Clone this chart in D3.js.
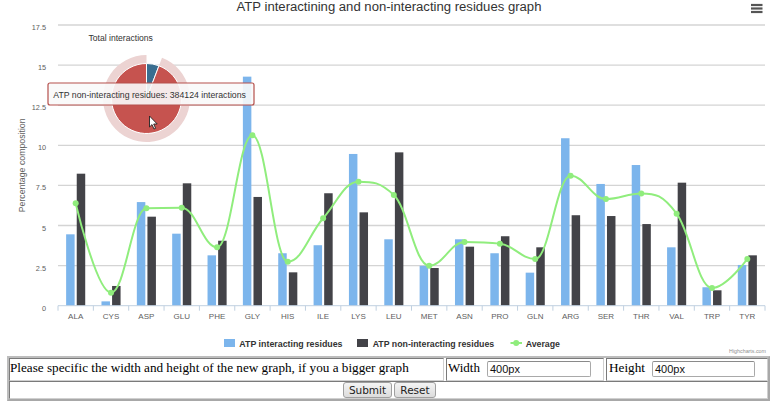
<!DOCTYPE html>
<html>
<head>
<meta charset="utf-8">
<script src="https://cdn.jsdelivr.net/npm/d3@7/dist/d3.min.js"></script>
<style>
  html, body { margin: 0; padding: 0; background: #fff; }
  body { width: 778px; height: 405px; position: relative; overflow: hidden; }
  #chart { position: absolute; left: 0; top: 0; }
  .box { position: absolute; box-sizing: border-box; }
  .outer { border: 2px solid #bdbdbd; border-right-color: #a8a8a8; border-bottom-color: #a8a8a8; }
  .cell { border: 1px solid #d0d0d0; border-top-color: #7a7a7a; border-left-color: #7a7a7a; }
  .serif { font-family: "Liberation Serif", "Times New Roman", serif; color: #000; position: absolute; white-space: nowrap; }
  .inp { position: absolute; box-sizing: border-box; border: 1px solid #a9a9a9; border-top-color: #8a8a8a; border-radius: 2px; background: #fff;
         font-family: "Liberation Sans", Arial, sans-serif; font-size: 11px; color: #111; padding-left: 2px; line-height: 14px; }
  .btn { position: absolute; box-sizing: border-box; border: 1px solid #a0a0a0; border-radius: 3px;
         background: linear-gradient(#f4f4f4, #dcdcdc); font-family: "DejaVu Sans", "Liberation Sans", sans-serif; font-size: 10.5px;
         color: #222; text-align: center; line-height: 14px; }
</style>
</head>
<body>
<svg id="chart" width="778" height="355"></svg>
<div class="box outer" style="left:7px;top:356px;width:763px;height:45px;"></div>
<div class="box cell" style="left:9px;top:358px;width:435px;height:23px;"></div>
<div class="box cell" style="left:446px;top:358px;width:158px;height:23px;"></div>
<div class="box cell" style="left:606px;top:358px;width:162px;height:23px;"></div>
<div class="box cell" style="left:9px;top:381px;width:759px;height:18px;"></div>
<span class="serif" id="ptext" style="left:10px;top:360px;font-size:14px;">Please specific the width and height of the new graph, if you a bigger graph</span>
<span class="serif" id="wtext" style="left:448px;top:360px;font-size:14px;">Width</span>
<span class="serif" id="htext" style="left:609px;top:360px;font-size:14px;">Height</span>
<div class="inp" style="left:487px;top:361px;width:104px;height:16px;">400px</div>
<div class="inp" style="left:652px;top:361px;width:103px;height:16px;">400px</div>
<div class="btn" style="left:343px;top:382px;width:49px;height:16px;">Submit</div>
<div class="btn" style="left:394px;top:382px;width:42px;height:16px;">Reset</div>

<script>
const categories = ["ALA","CYS","ASP","GLU","PHE","GLY","HIS","ILE","LYS","LEU","MET","ASN","PRO","GLN","ARG","SER","THR","VAL","TRP","TYR"];
const interacting = [4.45,0.27,6.46,4.49,3.14,14.28,3.27,3.77,9.46,4.14,2.49,4.14,3.27,2.06,10.44,7.59,8.77,3.64,1.15,2.54];
const nonInteracting = [8.23,1.23,5.55,7.63,4.05,6.78,2.08,7.01,5.82,9.56,2.35,3.68,4.33,3.64,5.64,5.59,5.09,7.67,0.96,3.14];
const average = [6.38,0.81,6.07,6.11,3.64,10.62,2.74,5.45,7.73,6.90,2.49,3.97,3.87,2.91,8.10,6.65,7.00,5.74,1.10,2.91];
const yTicks = [0,2.5,5,7.5,10,12.5,15,17.5];
const seriesNames = ["ATP interacting residues","ATP non-interacting residues","Average"];
const pieNames = ["ATP interacting residues","ATP non-interacting residues"];
const pieValues = [23650, 384124];
const titleText = "ATP interactining and non-interacting residues graph";
const yTitle = "Percentage composition";
const pieTitle = "Total interactions";
const tooltipText = "ATP non-interacting residues: 384124 interactions";

const colors = { blue: "#7cb5ec", dark: "#434348", green: "#90ed7d", pieBlue: "#3a6e90", pieRed: "#c6534f", halo: "#ecd3d2" };
const FONT = "'Liberation Sans', Arial, Helvetica, sans-serif";

const svg = d3.select("#chart");
const plotLeft = 58, plotRight = 765, plotTop = 25, plotBottom = 305.7;

const x = d3.scaleBand().domain(categories).range([plotLeft, plotRight]).paddingInner(0).paddingOuter(0);
const xs = d3.scaleBand().domain([0,1]).range([x.bandwidth()*0.2, x.bandwidth()*0.8]).paddingInner(0.2).paddingOuter(0.1);
const y = d3.scaleLinear().domain([0,17.5]).range([plotBottom, plotTop]);

function fit(sel, target) {
  const w = sel.node().getComputedTextLength();
  const fs = parseFloat(sel.attr("font-size"));
  sel.attr("font-size", fs * target / w);
}

// Custom d3 curve reproducing the Highcharts spline smoothing (with overshoot clamp)
function SplineCurve(context) { this._context = context; }
SplineCurve.prototype = {
  areaStart() { this._line = 0; },
  areaEnd() { this._line = NaN; },
  lineStart() { this._pts = []; },
  point(px, py) { this._pts.push({x: +px, y: +py}); },
  lineEnd() {
    const p = this._pts, n = p.length, s = 1.5, den = s + 1, c = this._context;
    for (let i = 1; i < n - 1; i++) {
      const a = p[i-1], b = p[i], d = p[i+1];
      let lx = (s*b.x + a.x)/den, ly = (s*b.y + a.y)/den;
      let rx = (s*b.x + d.x)/den, ry = (s*b.y + d.y)/den;
      if (rx !== lx) {
        const corr = ((ry - ly)*(rx - b.x))/(rx - lx) + b.y - ry;
        ly += corr; ry += corr;
      }
      if (ly > a.y && ly > b.y) { ly = Math.max(a.y, b.y); ry = 2*b.y - ly; }
      else if (ly < a.y && ly < b.y) { ly = Math.min(a.y, b.y); ry = 2*b.y - ly; }
      if (ry > d.y && ry > b.y) { ry = Math.max(d.y, b.y); ly = 2*b.y - ry; }
      else if (ry < d.y && ry < b.y) { ry = Math.min(d.y, b.y); ly = 2*b.y - ry; }
      b.lx = lx; b.ly = ly; b.rx = rx; b.ry = ry;
    }
    if (n) c.moveTo(p[0].x, p[0].y);
    for (let i = 1; i < n; i++) {
      const a = p[i-1], b = p[i];
      c.bezierCurveTo(a.rx ?? a.x, a.ry ?? a.y, b.lx ?? b.x, b.ly ?? b.y, b.x, b.y);
    }
  }
};
const highchartsSpline = ctx => new SplineCurve(ctx);

// gridlines
svg.append("g").selectAll("line").data(yTicks.filter(d => d > 0)).join("line")
  .attr("x1", plotLeft).attr("x2", plotRight)
  .attr("y1", d => y(d)).attr("y2", d => y(d))
  .attr("stroke", "#d4d4d4").attr("stroke-width", 1.3);

// y labels
svg.append("g").selectAll("text").data(yTicks).join("text")
  .attr("x", 46).attr("y", d => y(d) + 5)
  .attr("text-anchor", "end").attr("font-family", FONT).attr("font-size", 7.3)
  .attr("fill", "#606060").text(d => d);

// y title
const yt = svg.append("text")
  .attr("transform", `translate(25,${(plotTop+plotBottom)/2}) rotate(-90)`)
  .attr("text-anchor", "middle").attr("font-family", FONT).attr("font-size", 8)
  .attr("fill", "#606060").text(yTitle);
fit(yt, 94);

// bars
const groups = svg.append("g").selectAll("g").data(categories).join("g")
  .attr("transform", d => `translate(${x(d)},0)`);
groups.append("rect")
  .attr("x", xs(0)).attr("width", xs.bandwidth())
  .attr("y", (d,i) => y(interacting[i])).attr("height", (d,i) => plotBottom - y(interacting[i]))
  .attr("fill", colors.blue);
groups.append("rect")
  .attr("x", xs(1)).attr("width", xs.bandwidth())
  .attr("y", (d,i) => y(nonInteracting[i])).attr("height", (d,i) => plotBottom - y(nonInteracting[i]))
  .attr("fill", colors.dark);

// x axis
svg.append("line").attr("x1", plotLeft).attr("x2", plotRight).attr("y1", plotBottom).attr("y2", plotBottom)
  .attr("stroke", "#c0d0e0").attr("stroke-width", 1);
const tickXs = categories.map(c => x(c)).concat([plotRight]);
svg.append("g").selectAll("line").data(tickXs).join("line")
  .attr("x1", d => d).attr("x2", d => d).attr("y1", plotBottom).attr("y2", plotBottom + 5)
  .attr("stroke", "#c0d0e0").attr("stroke-width", 1);
svg.append("g").selectAll("text").data(categories).join("text")
  .attr("x", d => x(d) + x.bandwidth()/2).attr("y", 319)
  .attr("text-anchor", "middle").attr("font-family", FONT).attr("font-size", 8)
  .attr("fill", "#606060").text(d => d);

// average spline
const line = d3.line()
  .x((d,i) => x(categories[i]) + x.bandwidth()/2)
  .y(d => y(d))
  .curve(highchartsSpline);
svg.append("path").attr("d", line(average)).attr("fill", "none")
  .attr("stroke", colors.green).attr("stroke-width", 2);
svg.append("g").selectAll("circle").data(average).join("circle")
  .attr("cx", (d,i) => x(categories[i]) + x.bandwidth()/2).attr("cy", d => y(d))
  .attr("r", 3).attr("fill", colors.green);

// title
const tt = svg.append("text").attr("x", 389).attr("y", 11).attr("text-anchor", "middle")
  .attr("font-family", FONT).attr("font-size", 13).attr("fill", "#333").text(titleText);
fit(tt, 305);

// menu icon
svg.append("g").selectAll("line").data([5, 8.5, 12]).join("line")
  .attr("x1", 751).attr("x2", 762.5).attr("y1", d => d).attr("y2", d => d)
  .attr("stroke", "#555").attr("stroke-width", 2.2);

// pie
const pcx = 146.5, pcy = 98.5, pr = 35;
const pieGen = d3.pie().sort(null).value(d => d);
const arcs = pieGen(pieValues);
const arc = d3.arc().innerRadius(0).outerRadius(pr);
const pg = svg.append("g").attr("transform", `translate(${pcx},${pcy})`);
pg.append("path").attr("d", d3.arc().innerRadius(pr).outerRadius(43.5)(arcs[1])).attr("fill", colors.halo);
pg.selectAll("path.slice").data(arcs).join("path").attr("class", "slice")
  .attr("d", arc).attr("fill", (d,i) => i === 0 ? colors.pieBlue : colors.pieRed)
  .attr("stroke", "#fff").attr("stroke-width", 1);

const pt = svg.append("text").attr("x", 88.5).attr("y", 41).attr("font-family", FONT)
  .attr("font-size", 8.5).attr("fill", "#333").text(pieTitle);
fit(pt, 64.4);

// tooltip
svg.append("rect").attr("x", 48).attr("y", 83).attr("width", 206).attr("height", 22)
  .attr("rx", 2).attr("fill", "rgba(249,249,249,0.9)").attr("stroke", "#b5504c").attr("stroke-width", 1.2);
const tip = svg.append("text").attr("x", 53.3).attr("y", 98).attr("font-family", FONT)
  .attr("font-size", 9.5).attr("fill", "#333").text(tooltipText);
fit(tip, 193);

// cursor
svg.append("path")
  .attr("d", "M149.5,116 L149.5,127 L152,124.6 L154,129 L155.6,128.3 L153.7,124 L157.2,124 Z")
  .attr("fill", "#fff").attr("stroke", "#222").attr("stroke-width", 0.9).attr("stroke-linejoin", "round");

// legend
const lg = svg.append("g");
lg.append("rect").attr("x", 224).attr("y", 339).attr("width", 11).attr("height", 8).attr("fill", colors.blue);
lg.append("rect").attr("x", 357).attr("y", 339).attr("width", 11).attr("height", 8).attr("fill", colors.dark);
lg.append("line").attr("x1", 510.5).attr("x2", 522).attr("y1", 343).attr("y2", 343).attr("stroke", colors.green).attr("stroke-width", 2);
lg.append("circle").attr("cx", 516.2).attr("cy", 343).attr("r", 3).attr("fill", colors.green);
const legendX = [239.3, 372.7, 525.7];
const legendW = [103.4, 121.6, 34.3];
seriesNames.forEach((n, i) => {
  const t = lg.append("text").attr("x", legendX[i]).attr("y", 346.5).attr("font-family", FONT)
    .attr("font-size", 8.5).attr("font-weight", "bold").attr("fill", "#333").text(n);
  fit(t, legendW[i]);
});

// credits
const cr = svg.append("text").attr("x", 766).attr("y", 353).attr("text-anchor", "end")
  .attr("font-family", FONT).attr("font-size", 6).attr("fill", "#909090").text("Highcharts.com");
fit(cr, 37);

// fit html serif texts
function fitHtml(id, target) {
  const el = document.getElementById(id);
  const w = el.getBoundingClientRect().width;
  const fs = parseFloat(el.style.fontSize);
  el.style.fontSize = (fs * target / w) + "px";
}
fitHtml("ptext", 399);
fitHtml("wtext", 32);
fitHtml("htext", 36);
</script>
</body>
</html>
